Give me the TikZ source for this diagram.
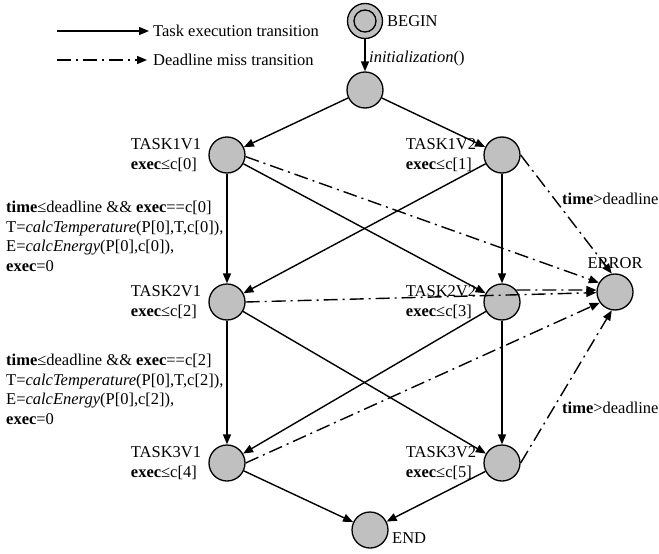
\documentclass[tikz,border=0pt]{standalone}
\usepackage{fontspec}
\setmainfont{Liberation Serif}
\usetikzlibrary{arrows.meta}
\definecolor{nodegray}{RGB}{192,192,192}
\begin{document}
\begin{tikzpicture}[x=1pt,y=-1pt,
  state/.style={circle,draw,line width=1.3pt,fill=nodegray,minimum size=36pt,inner sep=0pt},
  lbl/.style={font=\fontsize{16.5}{19.5}\selectfont,inner sep=0pt,align=left},
  trans/.style={line width=1.4pt,-{Triangle[length=10pt,width=8pt]}},
  miss/.style={trans,dash pattern=on 14pt off 5pt on 2pt off 5pt},
]
\useasboundingbox (0,0) rectangle (659,554);

% legend
\coordinate (lg1a) at (57,31);
\coordinate (lg1b) at (149,31);
\coordinate (lg2a) at (57,60);
\coordinate (lg2b) at (147,60);
\draw[trans] (lg1a) -- (lg1b);
\draw[miss] (lg2a) -- (lg2b);
\node[lbl,anchor=west] (lgt1) at (153,31) {Task execution transition};
\node[lbl,anchor=west] (lgt2) at (153,60) {Deadline miss transition};

% states
\node[state,minimum size=35pt] (begin) at (365,21) {};
\node[state,minimum size=22pt] (beginin) at (365,21) {};
\node[state] (init) at (365,90) {};
\node[state] (t1v1) at (227,155) {};
\node[state] (t1v2) at (502,155) {};
\node[state] (t2v1) at (227,302) {};
\node[state] (t2v2) at (502,302) {};
\node[state] (t3v1) at (227,463) {};
\node[state] (t3v2) at (502,463) {};
\node[state] (error) at (615,292) {};
\node[state] (end) at (370,530) {};

% state labels
\node[lbl,anchor=base west] (lbegin) at (387,26) {BEGIN};
\node[lbl,anchor=base] (lerror) at (615,268) {ERROR};
\node[lbl,anchor=base west] (lend) at (392,543) {END};
\node[lbl,anchor=east] (l1v1) at ([xshift=-7pt]t1v1.west) {TASK1V1\\\textbf{exec}≤c[0]};
\node[lbl,anchor=east] (l1v2) at ([xshift=-7pt]t1v2.west) {TASK1V2\\\textbf{exec}≤c[1]};
\node[lbl,anchor=east] (l2v1) at ([xshift=-7pt]t2v1.west) {TASK2V1\\\textbf{exec}≤c[2]};
\node[lbl,anchor=east] (l2v2) at ([xshift=-7pt]t2v2.west) {TASK2V2\\\textbf{exec}≤c[3]};
\node[lbl,anchor=east] (l3v1) at ([xshift=-7pt]t3v1.west) {TASK3V1\\\textbf{exec}≤c[4]};
\node[lbl,anchor=east] (l3v2) at ([xshift=-7pt]t3v2.west) {TASK3V2\\\textbf{exec}≤c[5]};

% edge labels
\node[lbl,anchor=base west] (linit) at (369,62) {\textit{initialization}()};
\node[lbl,anchor=north west] (lg1) at (6,201) {\textbf{time}≤deadline \&\& \textbf{exec}==c[0]\\T=\textit{calcTemperature}(P[0],T,c[0]),\\E=\textit{calcEnergy}(P[0],c[0]),\\\textbf{exec}=0};
\node[lbl,anchor=north west] (lg2) at (6,354) {\textbf{time}≤deadline \&\& \textbf{exec}==c[2]\\T=\textit{calcTemperature}(P[0],T,c[2]),\\E=\textit{calcEnergy}(P[0],c[2]),\\\textbf{exec}=0};
\node[lbl,anchor=base west] (ltd1) at (562,204) {\textbf{time}>deadline};
\node[lbl,anchor=base west] (ltd2) at (562,413) {\textbf{time}>deadline};

% task execution transitions
\draw[trans] (begin) -- (init);
\draw[trans] (init) -- (t1v1);
\draw[trans] (init) -- (t1v2);
\draw[trans] (t1v1) -- (t2v1);
\draw[trans] (t1v1) -- (t2v2);
\draw[trans] (t1v2) -- (t2v1);
\draw[trans] (t1v2) -- (t2v2);
\draw[trans] (t2v1) -- (t3v1);
\draw[trans] (t2v1) -- (t3v2);
\draw[trans] (t2v2) -- (t3v1);
\draw[trans] (t2v2) -- (t3v2);
\draw[trans] (t3v1) -- (end);
\draw[trans] (t3v2) -- (end);

% deadline miss transitions
\draw[miss] (t1v1.-5) -- (error.150);
\draw[miss] (t1v2.east) -- (error.100);
\draw[miss] (t2v1.east) -- (error.182);
\draw[miss] (t2v2.40) -- (error.174);
\draw[miss] (t3v1.east) -- (error.-145);
\draw[miss] (t3v2.east) -- (error.-100);
\end{tikzpicture}
\end{document}
